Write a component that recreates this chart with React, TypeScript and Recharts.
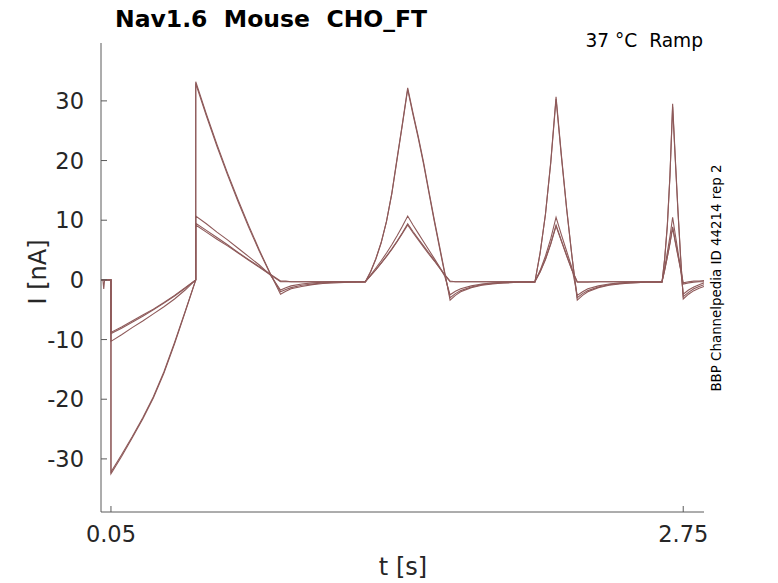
import React from 'react';
import { LineChart, Line, XAxis, YAxis } from 'recharts';

// time base shared by every sweep [s]
const T = [
  0.003, 0.012, 0.016, 0.02, 0.05,
  0.05, 0.1, 0.15, 0.2, 0.25, 0.3, 0.35, 0.4, 0.45,
  0.45, 0.5, 0.55, 0.6, 0.65, 0.7, 0.75, 0.8, 0.85,
  0.875, 0.9, 0.95, 1.0, 1.05, 1.1, 1.175, 1.25,
  1.275, 1.3, 1.325, 1.35, 1.375, 1.4, 1.425, 1.45,
  1.475, 1.5, 1.525, 1.55, 1.575, 1.6, 1.625, 1.65,
  1.675, 1.7, 1.75, 1.8, 1.85, 1.9, 1.975, 2.05,
  2.075, 2.1, 2.125, 2.15,
  2.175, 2.2, 2.225, 2.25,
  2.275, 2.3, 2.35, 2.4, 2.45, 2.5, 2.575, 2.65,
  2.6625, 2.675, 2.6875, 2.7,
  2.7125, 2.725, 2.7375, 2.75,
  2.775, 2.8, 2.825, 2.848,
];

// currents [nA], one array per sweep
const sweepA = [
  0, 0, 0, 0, 0,
  -32.5, -29.6, -26.5, -23.3, -19.8, -15.6, -10.7, -5.4, 0,
  33.2, 27.8, 22.7, 17.9, 13.4, 9.1, 5.0, 1.2, -2.4,
  -1.9, -1.5, -1.1, -0.8, -0.6, -0.5, -0.4, -0.4,
  1.3, 3.5, 6.2, 9.8, 14.5, 20.4, 26.2, 32.2,
  28.0, 24.0, 19.7, 14.9, 10.2, 5.7, 1.2, -3.4,
  -2.6, -2.0, -1.3, -0.9, -0.7, -0.5, -0.4, -0.4,
  4.5, 11.0, 19.8, 30.7,
  21.0, 12.0, 4.0, -3.4,
  -2.6, -2.0, -1.3, -0.9, -0.7, -0.5, -0.4, -0.4,
  3.5, 9.0, 17.5, 29.5,
  20.5, 11.8, 4.0, -3.2,
  -2.4, -1.8, -1.4, -1.1,
];
const sweepB = [
  0, 0, 0, 0, 0,
  -32.2, -29.3, -26.3, -23.1, -19.6, -15.4, -10.5, -5.3, 0,
  32.9, 27.5, 22.4, 17.6, 13.1, 8.8, 4.8, 1.1, -2.0,
  -1.6, -1.3, -0.9, -0.7, -0.5, -0.4, -0.4, -0.3,
  1.4, 3.6, 6.3, 9.8, 14.4, 20.2, 26.0, 31.9,
  27.7, 23.7, 19.4, 14.6, 9.9, 5.4, 1.0, -3.0,
  -2.3, -1.8, -1.2, -0.8, -0.6, -0.5, -0.4, -0.4,
  4.6, 11.0, 19.6, 30.3,
  20.7, 11.8, 3.9, -3.0,
  -2.3, -1.8, -1.2, -0.8, -0.6, -0.5, -0.4, -0.4,
  3.6, 9.2, 17.6, 29.0,
  20.1, 11.5, 3.8, -2.8,
  -2.1, -1.5, -1.1, -0.8,
];
const sweepC = [
  0, 0, 0, 0, 0,
  -10.3, -9.2, -8.0, -6.9, -5.7, -4.5, -3.2, -1.7, 0,
  10.7, 9.4, 8.0, 6.7, 5.3, 3.9, 2.5, 0.9, -1.7,
  -1.3, -1.0, -0.7, -0.5, -0.4, -0.3, -0.3, -0.3,
  0.8, 2.0, 3.2, 4.5, 5.9, 7.4, 9.0, 10.7,
  9.2, 7.8, 6.4, 5.0, 3.6, 2.2, 0.6, -2.5,
  -1.9, -1.5, -1.0, -0.7, -0.5, -0.4, -0.3, -0.3,
  1.6, 4.0, 6.9, 10.5,
  7.6, 4.8, 2.0, -2.6,
  -2.0, -1.5, -1.0, -0.7, -0.5, -0.4, -0.3, -0.3,
  2.0, 4.6, 7.3, 10.5,
  7.6, 4.8, 2.0, -2.4,
  -1.7, -1.2, -0.8, -0.5,
];
const sweepD = [
  0, 0, -1.5, 0, 0,
  -9.0, -8.1, -7.1, -6.1, -5.0, -3.9, -2.7, -1.4, 0,
  9.5, 8.3, 7.1, 5.9, 4.6, 3.4, 2.2, 1.0, -0.2,
  -0.2, -0.3, -0.3, -0.3, -0.3, -0.3, -0.3, -0.3,
  0.7, 1.7, 2.8, 4.0, 5.2, 6.5, 7.9, 9.4,
  8.1, 6.9, 5.7, 4.5, 3.3, 2.1, 0.9, -0.2,
  -0.3, -0.3, -0.3, -0.3, -0.3, -0.3, -0.3, -0.3,
  1.4, 3.5, 6.1, 9.2,
  6.6, 4.1, 1.7, -0.3,
  -0.3, -0.3, -0.3, -0.3, -0.3, -0.3, -0.3, -0.3,
  1.7, 3.9, 6.2, 8.9,
  6.5, 4.2, 1.9, -0.5,
  -0.3, -0.2, -0.2, -0.1,
];
const sweepE = [
  0, 0, 0, 0, 0,
  -8.8, -7.9, -6.9, -5.9, -4.9, -3.8, -2.6, -1.3, 0,
  9.2, 8.0, 6.8, 5.7, 4.5, 3.3, 2.1, 0.9, -0.3,
  -0.3, -0.3, -0.3, -0.3, -0.3, -0.3, -0.3, -0.3,
  0.7, 1.7, 2.8, 3.9, 5.1, 6.4, 7.8, 9.2,
  7.9, 6.7, 5.5, 4.3, 3.2, 2.0, 0.8, -0.3,
  -0.3, -0.3, -0.3, -0.3, -0.3, -0.3, -0.3, -0.3,
  1.3, 3.4, 6.0, 9.0,
  6.5, 4.0, 1.6, -0.4,
  -0.4, -0.4, -0.3, -0.3, -0.3, -0.3, -0.3, -0.3,
  1.6, 3.8, 6.1, 8.7,
  6.3, 4.0, 1.7, -0.7,
  -0.5, -0.4, -0.3, -0.3,
];

const xTicks = [0.05, 2.75];
const yTicks = [-30, -20, -10, 0, 10, 20, 30];

const data = T.map((t, i) => ({
  t,
  a: sweepA[i],
  b: sweepB[i],
  c: sweepC[i],
  d: sweepD[i],
  e: sweepE[i],
}));

const font = 'DejaVu Sans';
const axisColor = '#5a5a5a';
const textColor = '#262626';
const traceColor = '#8e5a5a';

const YTick = (props: any) => {
  const { x, y, payload } = props;
  return (
    <g>
      <line x1={x} x2={x + 6} y1={y} y2={y} stroke={axisColor} />
      <text x={x - 17} y={y} dy="0.36em" textAnchor="end" fontFamily={font} fontSize={22.5} fill={textColor}>
        {payload.value}
      </text>
    </g>
  );
};

const XTick = (props: any) => {
  const { x, y, payload } = props;
  return (
    <g>
      <line x1={x} x2={x} y1={y} y2={y - 6} stroke={axisColor} />
      <text x={x} y={y + 30} textAnchor="middle" fontFamily={font} fontSize={22.5} fill={textColor}>
        {payload.value}
      </text>
    </g>
  );
};

export default function App() {
  return (
    <div style={{ position: 'absolute', left: 0, top: 0, width: 778, height: 583, background: '#fff' }}>
      <LineChart width={778} height={583} data={data} margin={{ top: 43, right: 74, bottom: 0, left: 0 }}>
        <XAxis
          dataKey="t"
          type="number"
          domain={[0.003, 2.848]}
          ticks={xTicks}
          interval={0}
          allowDataOverflow
          height={71}
          tickSize={0}
          tickMargin={0}
          tickLine={false}
          axisLine={{ stroke: axisColor }}
          tick={<XTick />}
        />
        <YAxis
          type="number"
          domain={[-38.9, 39.7]}
          ticks={yTicks}
          interval={0}
          allowDataOverflow
          width={101}
          tickSize={0}
          tickMargin={0}
          tickLine={false}
          axisLine={{ stroke: axisColor }}
          tick={<YTick />}
        />
        {['a', 'b', 'c', 'd', 'e'].map((k) => (
          <Line
            key={k}
            dataKey={k}
            type="linear"
            stroke={traceColor}
            strokeWidth={1.1}
            dot={false}
            activeDot={false}
            isAnimationActive={false}
          />
        ))}
      </LineChart>
      <svg width={778} height={583} style={{ position: 'absolute', left: 0, top: 0, pointerEvents: 'none' }}>
        <text x={115} y={27} fontFamily={font} fontWeight="bold" fontSize={23.5} fill="#000" style={{ whiteSpace: 'pre' }}>
          {'Nav1.6  Mouse  CHO_FT'}
        </text>
        <text x={703} y={47} textAnchor="end" fontFamily={font} fontSize={18.6} fill="#000" style={{ whiteSpace: 'pre' }}>
          {'37 °C  Ramp'}
        </text>
        <text
          x={721}
          y={278}
          transform="rotate(-90 721 278)"
          textAnchor="middle"
          fontFamily={font}
          fontSize={13.4}
          fill="#000"
        >
          BBP Channelpedia ID 44214 rep 2
        </text>
        <text x={403} y={575} textAnchor="middle" fontFamily={font} fontSize={24} fill={textColor}>
          t [s]
        </text>
        <text
          x={46}
          y={272}
          transform="rotate(-90 46 272)"
          textAnchor="middle"
          fontFamily={font}
          fontSize={24}
          fill={textColor}
        >
          I [nA]
        </text>
      </svg>
    </div>
  );
}
